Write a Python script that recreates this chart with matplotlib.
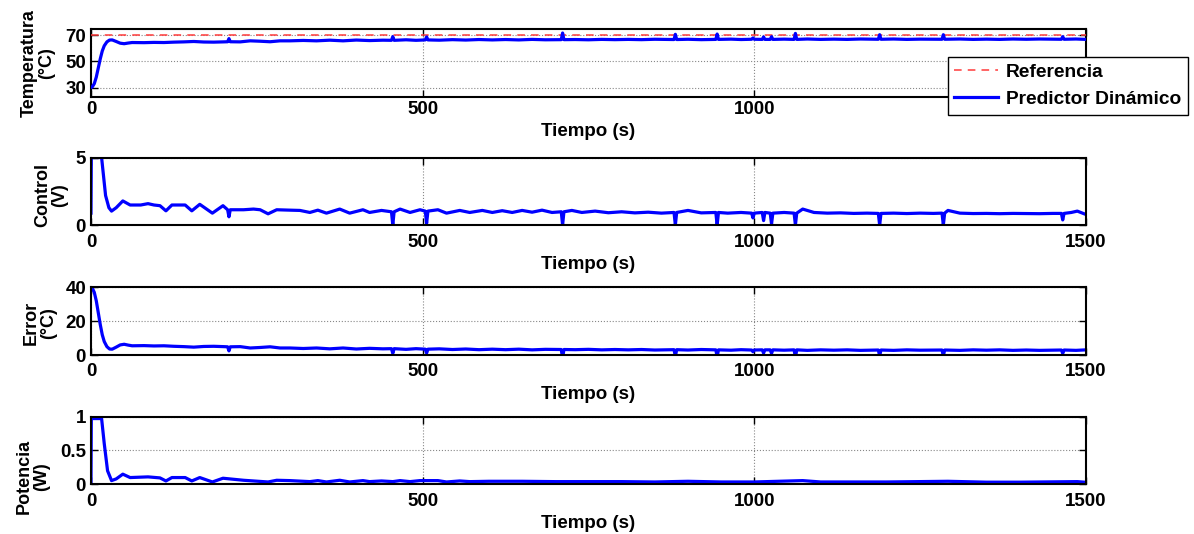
import numpy as np
import matplotlib
matplotlib.use("Agg")
import matplotlib.pyplot as plt

plt.rcParams['font.family'] = ['Liberation Sans', 'DejaVu Sans']
plt.rcParams['font.weight'] = 'bold'
plt.rcParams['axes.labelweight'] = 'bold'
plt.rcParams['font.size'] = 13

# --- datos ---
referencia = 70

t_temp = [0, 2, 5, 8, 11, 14, 17, 20, 24, 28, 32, 38, 44, 50, 56, 62, 80, 95, 110, 125,
          140, 155, 170, 185, 200, 206, 208, 210, 225, 240, 255, 270, 285, 300, 320, 340,
          360, 380, 400, 420, 440, 453, 455, 457, 475, 490, 504, 506, 508, 525, 545, 565,
          585, 605, 625, 645, 665, 685, 709, 711, 713, 730, 750, 770, 790, 810, 830, 850,
          879, 881, 883, 900, 920, 942, 944, 946, 965, 980, 996, 998, 1000, 1012, 1014, 1016,
          1024, 1026, 1028, 1045, 1060, 1062, 1064, 1080, 1100, 1120, 1140, 1160, 1187, 1189,
          1191, 1210, 1230, 1250, 1283, 1285, 1287, 1310, 1330, 1350, 1370, 1390, 1410, 1430,
          1463, 1465, 1467, 1485, 1500]
temperatura = [30, 30.5, 33, 38, 45, 52, 58, 62, 65, 66.4, 66.5, 65.3, 64.0, 63.6, 64.1, 64.5, 64.4, 64.6, 64.5, 64.8,
               65.0, 65.3, 64.9, 64.8, 65.0, 65.1, 67.5, 65.1, 65.0, 65.8, 65.5, 65.1, 65.8, 65.8, 66.1, 65.8,
               66.3, 65.8, 66.4, 66.0, 66.3, 66.2, 69.0, 66.2, 66.6, 66.2, 66.5, 68.8, 66.5, 66.3, 66.7, 66.4,
               66.8, 66.5, 66.8, 66.5, 66.9, 66.6, 66.7, 71.8, 66.7, 66.8, 66.6, 66.9, 66.7, 66.9, 66.7, 67.0,
               66.8, 70.8, 66.8, 67.0, 66.7, 66.9, 71.0, 66.9, 67.1, 66.8, 67.0, 68.0, 67.0, 66.9, 68.8, 66.9,
               66.9, 69.0, 66.9, 67.1, 66.9, 71.5, 66.9, 67.2, 66.9, 67.1, 66.9, 67.2, 67.0, 70.5,
               67.0, 67.2, 66.9, 67.1, 67.0, 70.5, 67.0, 67.2, 66.9, 67.1, 66.9, 67.2, 67.0, 67.2,
               67.0, 69.0, 67.0, 67.2, 66.9]

t_ctrl = [0, 0.5, 16, 22, 27, 31, 38, 48, 59, 75, 86, 95, 104, 113, 122, 142, 152, 164, 183, 199,
          206, 208, 210, 230, 245, 255, 267, 280, 300, 315, 330, 342, 355, 375, 390, 410, 420, 438, 453, 455,
          457, 466, 481, 496, 504, 506, 508, 523, 536, 556, 571, 590, 605, 620, 635, 650, 665, 680, 695, 709,
          711, 713, 725, 740, 760, 780, 800, 820, 840, 860, 879, 881, 883, 900, 920, 942, 944, 946, 960, 980,
          996, 998, 1000, 1012, 1014, 1016, 1024, 1026, 1028, 1045, 1060, 1062, 1064, 1073, 1090, 1110, 1130, 1150, 1170, 1187,
          1189, 1191, 1210, 1230, 1250, 1270, 1283, 1285, 1287, 1292, 1310, 1330, 1350, 1370, 1390, 1410, 1430, 1450, 1463, 1465,
          1467, 1478, 1487, 1500]
control = [0.9, 5.0, 5.0, 2.2, 1.3, 1.05, 1.3, 1.8, 1.5, 1.5, 1.6, 1.5, 1.45, 1.07, 1.5, 1.5, 1.07, 1.55, 0.9, 1.45,
           1.15, 0.63, 1.15, 1.15, 1.2, 1.15, 0.85, 1.15, 1.12, 1.1, 0.95, 1.12, 0.9, 1.2, 0.9, 1.15, 0.95, 1.1, 1.0, 0.02,
           1.0, 1.2, 0.95, 1.15, 1.05, 0.15, 1.05, 1.15, 0.9, 1.1, 0.95, 1.1, 0.95, 1.08, 0.95, 1.1, 0.97, 1.12, 0.95, 1.0,
           0.02, 1.0, 1.1, 0.95, 1.05, 0.93, 1.0, 0.92, 0.97, 0.9, 0.95, 0.02, 0.95, 1.1, 0.92, 0.95, 0.02, 0.95, 0.9, 0.95,
           0.9, 0.55, 0.9, 0.95, 0.35, 0.95, 0.9, 0.1, 0.9, 0.95, 0.9, 0.02, 0.9, 1.2, 0.95, 0.9, 0.92, 0.88, 0.9, 0.88,
           0.02, 0.88, 0.9, 0.87, 0.9, 0.88, 0.9, 0.02, 0.9, 1.1, 0.9, 0.87, 0.88, 0.86, 0.88, 0.87, 0.86, 0.88, 0.88, 0.4,
           0.88, 0.95, 1.05, 0.8]

t_pot = [0, 0.5, 16, 20, 25, 31, 38, 48, 59, 86, 104, 113, 122, 142, 152, 164, 183, 199, 230, 267,
         280, 300, 330, 342, 355, 375, 390, 410, 420, 438, 455, 466, 481, 496, 523, 536, 556, 571, 600, 650,
         700, 750, 800, 850, 900, 950, 1000, 1073, 1100, 1200, 1292, 1350, 1400, 1487, 1500]
potencia = [0.03, 0.97, 0.97, 0.6, 0.2, 0.055, 0.08, 0.15, 0.1, 0.11, 0.095, 0.05, 0.1, 0.1, 0.05, 0.1, 0.035, 0.09, 0.06, 0.035,
            0.06, 0.055, 0.04, 0.055, 0.035, 0.06, 0.035, 0.055, 0.04, 0.05, 0.04, 0.055, 0.04, 0.055, 0.055, 0.035, 0.05, 0.04, 0.045, 0.045,
            0.04, 0.04, 0.04, 0.035, 0.045, 0.035, 0.035, 0.055, 0.035, 0.035, 0.045, 0.032, 0.032, 0.04, 0.03]

error = referencia - np.array(temperatura)

ylabels = ['Temperatura\n(°C)', 'Control\n(V)', 'Error\n(°C)', 'Potencia\n(W)']
ylims = [(23, 75), (0, 5), (0, 40), (0, 1)]
yticks = [[30, 50, 70], [0, 5], [0, 20, 40], [0, 0.5, 1]]
yticklabels = [['30', '50', '70'], ['0', '5'], ['0', '20', '40'], ['0', '0.5', '1']]
xticks = [0, 500, 1000, 1500]

fig = plt.figure(figsize=(11.94, 5.34), dpi=100)
bottoms = [0.819, 0.578, 0.335, 0.093]
label_x = [-0.036, -0.023, -0.034, -0.041]
label_y = [0.5, 0.45, 0.47, 0.12]
xpads = [3, 6, 6, 6]
axes = [fig.add_axes([0.0762, b, 0.8333, 0.127]) for b in bottoms]

ax = axes[0]
ax.plot([0, 1500], [referencia, referencia], color='#ff3b3b', lw=1.1, dashes=(5, 4),
        label='Referencia', zorder=3)
ax.plot(t_temp, temperatura, '-', color='blue', lw=2.3, label='Predictor Dinámico', zorder=4)
axes[1].plot(t_ctrl, control, '-', color='blue', lw=2.3)
axes[2].plot(t_temp, error, '-', color='blue', lw=2.3)
axes[3].plot(t_pot, potencia, '-', color='blue', lw=2.3)

for i, ax in enumerate(axes):
    ax.set_xlim(0, 1500)
    ax.set_ylim(*ylims[i])
    ax.set_xticks(xticks)
    ax.set_yticks(yticks[i])
    ax.set_yticklabels(yticklabels[i])
    ax.tick_params(direction='in', top=True, right=True, length=5, width=1, labelsize=13.5)
    ax.tick_params(axis='x', pad=xpads[i])
    ax.grid(True, linestyle=':', color='#888888', lw=0.8)
    for s in ax.spines.values():
        s.set_linewidth(1.5)
    ax.set_xlabel('Tiempo (s)', fontsize=13.5, labelpad=4)
    ax.set_ylabel(ylabels[i], fontsize=13, linespacing=1.0)
    ax.yaxis.set_label_coords(label_x[i], label_y[i])

leg = axes[0].legend(loc='upper right', bbox_to_anchor=(1188 / 1194, 1 - 57 / 534),
                     bbox_transform=fig.transFigure, fancybox=False, framealpha=1,
                     edgecolor='black', borderpad=0.35, labelspacing=0.5, handlelength=2.3,
                     handletextpad=0.4, borderaxespad=0, fontsize=13.8)
leg.get_frame().set_linewidth(1.0)

fig.savefig('out.png', dpi=100)
